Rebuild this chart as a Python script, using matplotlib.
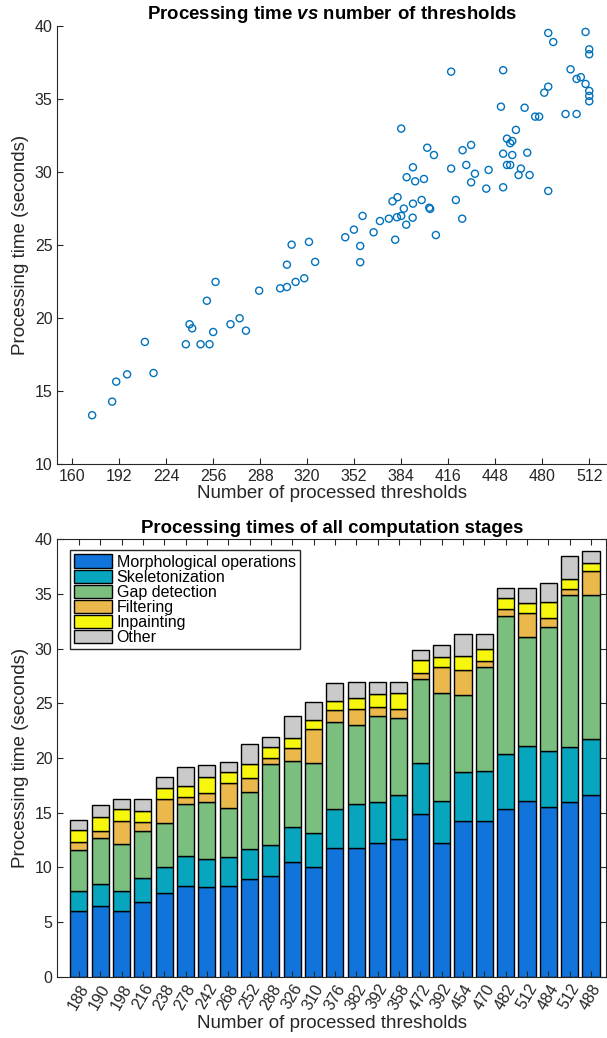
import numpy as np
import matplotlib
matplotlib.use('Agg')
import matplotlib.pyplot as plt

plt.rcParams['font.family'] = ['Liberation Sans', 'DejaVu Sans']
plt.rcParams['mathtext.fontset'] = 'custom'
plt.rcParams['mathtext.rm'] = 'Liberation Sans'
plt.rcParams['mathtext.bf'] = 'Liberation Sans:bold'
plt.rcParams['mathtext.bfit'] = 'Liberation Sans:bold:italic'

# scatter: thresholds vs total time
n_thr = [173.6, 187.2, 190.0, 197.4, 209.5, 215.4, 237.4, 239.9, 241.7, 247.4,
         251.7, 253.5, 256.0, 257.6, 267.8, 274.0, 278.3, 287.3, 301.6, 306.2,
         306.2, 312.1, 318.0, 309.4, 321.2, 325.4,
         484.1, 509.5, 487.5, 512.0, 512.0, 418.0, 453.4, 499.3, 503.4, 506.3,
         509.5, 512.0, 512.0, 512.0, 484.1, 481.4, 451.9, 468.0, 475.2, 477.9,
         495.9, 503.4, 384.0, 462.1, 456.0, 459.6, 458.2, 401.7, 431.6, 425.8,
         406.3, 453.4, 459.6, 469.8, 392.0, 428.3, 456.0, 458.2, 418.0, 387.7,
         393.5, 399.5, 434.2, 443.5, 465.5, 463.9, 471.4, 431.6, 441.9, 453.4,
         484.1, 421.2, 378.1, 381.5, 392.0, 397.9, 385.8, 403.1, 403.7, 357.7,
         351.8, 369.5, 375.6, 381.1, 384.0, 391.8, 387.4, 365.2, 379.9, 407.6,
         425.5, 345.9, 356.1, 356.1]
t_total = [13.34, 14.27, 15.64, 16.14, 18.36, 16.23, 18.20, 19.57, 19.29, 18.20,
           21.18, 18.20, 19.04, 22.47, 19.57, 19.98, 19.13, 21.87, 22.03, 22.12,
           23.65, 22.47, 22.72, 25.02, 25.21, 23.84,
           39.52, 39.59, 38.90, 38.40, 38.06, 36.87, 36.97, 37.03, 36.37, 36.49,
           36.03, 35.55, 35.21, 34.84, 35.84, 35.43, 34.47, 34.40, 33.79, 33.79,
           33.97, 33.97, 32.97, 32.88, 32.28, 32.12, 31.97, 31.66, 31.85, 31.49,
           31.16, 31.25, 31.16, 31.32, 30.32, 30.48, 30.48, 30.48, 30.23, 29.64,
           29.36, 29.52, 29.88, 30.14, 30.23, 29.79, 29.79, 29.29, 28.86, 28.95,
           28.70, 28.08, 27.99, 28.27, 27.83, 28.08, 27.49, 27.55, 27.47, 26.99,
           26.05, 26.64, 26.80, 26.90, 26.99, 26.87, 26.39, 25.87, 25.36, 25.68,
           26.80, 25.53, 24.93, 23.82]

# stacked bars: per-stage times
bar_labels = ['188', '190', '198', '216', '238', '278', '242', '268', '252', '288',
              '326', '310', '376', '382', '392', '358', '472', '392', '454', '470',
              '482', '512', '484', '512', '488']
morph = [5.98, 6.47, 6.04, 6.86, 7.69, 8.33, 8.18, 8.27, 8.94, 9.19, 10.47, 10.01,
         11.73, 11.80, 12.20, 12.60, 14.91, 12.26, 14.22, 14.25, 15.31, 16.05,
         15.53, 15.98, 16.62]
skel = [1.86, 2.01, 1.80, 2.14, 2.37, 2.67, 2.62, 2.68, 2.72, 2.83, 3.20, 3.14,
        3.58, 3.97, 3.76, 4.00, 4.61, 3.84, 4.48, 4.54, 5.06, 5.09, 5.09, 5.01, 5.13]
gap = [3.78, 4.21, 4.30, 4.33, 4.00, 4.77, 5.16, 4.48, 5.24, 7.41, 6.04, 6.37,
       7.99, 7.26, 7.86, 7.10, 7.72, 9.86, 7.04, 9.52, 12.60, 9.91, 11.38, 13.96, 13.20]
filt = [0.68, 0.64, 2.13, 0.79, 2.20, 0.70, 0.85, 2.28, 1.31, 0.55, 1.24, 3.11,
        1.07, 1.43, 0.83, 0.76, 0.57, 2.40, 2.35, 0.60, 0.64, 2.22, 0.82, 0.49, 2.17]
inpaint = [1.12, 1.31, 1.04, 1.07, 1.00, 0.98, 1.49, 1.02, 1.25, 1.06, 0.92, 0.83,
           0.89, 1.01, 1.24, 1.52, 1.14, 0.89, 1.22, 1.07, 1.04, 0.92, 1.46, 0.97, 0.70]
other = [0.92, 1.10, 0.92, 1.10, 1.02, 1.76, 1.07, 0.94, 1.83, 0.92, 2.01, 1.64,
         1.58, 1.52, 1.10, 1.01, 0.94, 1.10, 2.04, 1.40, 0.88, 1.37, 1.71, 2.08, 1.16]

stage_names = ['Morphological operations', 'Skeletonization', 'Gap detection',
               'Filtering', 'Inpainting', 'Other']
stage_colors = ['#1174DA', '#08A6BE', '#7ABF7D', '#EBB84C', '#F7F70E', '#CACACA']

txt = '#262626'
fig = plt.figure(figsize=(6.07, 10.38), dpi=100)

# ---- top: scatter ----
ax1 = fig.add_axes([0.0947, 0.553, 0.9036, 0.422])
ax1.scatter(n_thr, t_total, s=26, facecolors='none', edgecolors='#0072BD', linewidths=1.0)
ax1.set_xlim(150, 523.4)
ax1.set_ylim(10, 40)
ax1.set_xticks(np.arange(160, 513, 32))
ax1.set_yticks(np.arange(10, 41, 5))
ax1.spines['top'].set_visible(False)
ax1.spines['right'].set_visible(False)
ax1.tick_params(direction='in', length=4, labelsize=11.5, colors=txt)
ax1.set_xlabel('Number of processed thresholds', fontsize=13.5, color=txt, labelpad=1)
ax1.set_ylabel('Processing time (seconds)', fontsize=13.5, color=txt, labelpad=4)
ax1.set_title(r'$\mathbf{Processing\ time}$ $\mathbfit{vs}$ $\mathbf{number\ of\ thresholds}$',
              fontsize=13.4, color='black', pad=5)
for s in ax1.spines.values():
    s.set_color(txt)

# ---- bottom: stacked bars ----
ax2 = fig.add_axes([0.0947, 0.0591, 0.9036, 0.4212])
x = np.arange(1, len(bar_labels) + 1)
bottom = np.zeros(len(x))
for vals, name, col in zip([morph, skel, gap, filt, inpaint, other], stage_names, stage_colors):
    ax2.bar(x, vals, width=0.8, bottom=bottom, color=col, edgecolor='black',
            linewidth=1.0, label=name)
    bottom += np.array(vals)
ax2.set_xlim(0.0, 25.7)
ax2.set_ylim(0, 40)
ax2.set_xticks(x)
ax2.set_xticklabels(bar_labels, rotation=60, ha='right', va='top', rotation_mode='anchor')
ax2.set_yticks(np.arange(0, 41, 5))
ax2.tick_params(direction='in', length=4, labelsize=11.5, colors=txt,
                top=True, right=True)
ax2.set_xlabel('Number of processed thresholds', fontsize=13.5, color=txt, labelpad=2)
ax2.set_ylabel('Processing time (seconds)', fontsize=13.5, color=txt, labelpad=4)
ax2.set_title('Processing times of all computation stages', fontsize=13.4,
              fontweight='bold', color='black', pad=5)
for s in ax2.spines.values():
    s.set_color(txt)
leg = ax2.legend(loc='upper left', bbox_to_anchor=(0.022, 0.975), fontsize=11.5,
                 frameon=True, fancybox=False, edgecolor=txt, framealpha=1,
                 borderpad=0.25, labelspacing=0.0, handlelength=2.4,
                 handleheight=0.9, handletextpad=0.3, borderaxespad=0)
leg.get_frame().set_linewidth(1.0)

fig.savefig('out.png', dpi=100)
